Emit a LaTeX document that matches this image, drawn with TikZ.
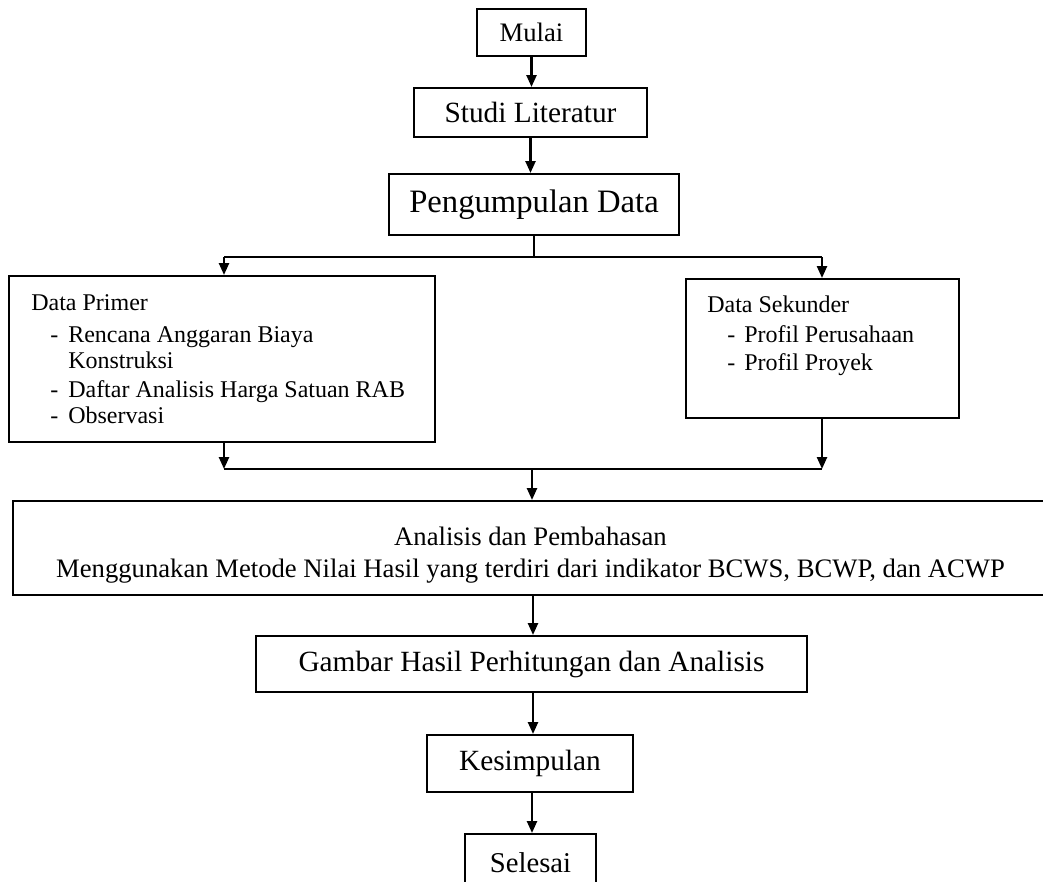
\documentclass[tikz,border=0pt]{standalone}
\usepackage{fontspec}
\setmainfont{Liberation Serif}
\usetikzlibrary{arrows.meta}
\tikzset{
  box/.style={draw, line width=1.5pt, inner sep=0pt, align=center},
  conn/.style={line width=1.8pt},
  arr/.style={line width=1.8pt, -{Triangle[length=9pt,width=7.5pt]}},
  listtext/.style={anchor=base west, inner sep=0pt, font=\fontsize{18}{21}\selectfont},
}
\begin{document}
\begin{tikzpicture}[x=0.75pt,y=-0.75pt]
\useasboundingbox (0,0) rectangle (1043,882);
\fill[white] (0,0) rectangle (1043,882);

% main boxes
\node[box, minimum width=81.75pt, minimum height=35.25pt, font=\fontsize{20}{24}\selectfont] (mulai) at (531.5,32.5) {Mulai};
\node[box, minimum width=174.75pt, minimum height=36.75pt, font=\fontsize{22}{26}\selectfont] (studi) at (530.5,112.5) {Studi Literatur};
\node[box, minimum width=217.5pt, minimum height=45.75pt, font=\fontsize{24.5}{29}\selectfont] (peng) at (534,204.5) {Pengumpulan Data};
\node[box, minimum width=319.5pt, minimum height=124.5pt] (prim) at (222,359) {};
\node[box, minimum width=204.75pt, minimum height=104.25pt] (sek) at (822.5,348.5) {};
\node[box, minimum width=776.25pt, minimum height=70.5pt] (anal) at (530.5,548) {};
\node[align=center, inner sep=0pt, font=\fontsize{20}{23.5}\selectfont] (analtext) at (530.5,555)
  {Analisis dan Pembahasan\\Menggunakan Metode Nilai Hasil yang terdiri dari indikator BCWS, BCWP, dan ACWP};
\node[box, minimum width=413.25pt, minimum height=42pt, font=\fontsize{22}{26}\selectfont] (gambar) at (531.5,664) {Gambar Hasil Perhitungan dan Analisis};
\node[box, minimum width=154.5pt, minimum height=42.75pt, font=\fontsize{22}{26}\selectfont] (kes) at (530,763.5) {Kesimpulan};
\node[box, minimum width=98.25pt, minimum height=43.5pt, font=\fontsize{21.5}{26}\selectfont] (sel) at (530.5,863) {Selesai};

% Data Primer text
\node[listtext] (p0) at (31,310) {Data Primer};
\node[listtext] (p1d) at (50,342) {-};
\node[listtext] (p1) at (68,342) {Rencana Anggaran Biaya};
\node[listtext] (p1b) at (68,368) {Konstruksi};
\node[listtext] (p2d) at (50,397) {-};
\node[listtext] (p2) at (68,397) {Daftar Analisis Harga Satuan RAB};
\node[listtext] (p3d) at (50,423) {-};
\node[listtext] (p3) at (68,423) {Observasi};

% Data Sekunder text
\node[listtext] (s0) at (707,312) {Data Sekunder};
\node[listtext] (s1d) at (727,342) {-};
\node[listtext] (s1) at (744,342) {Profil Perusahaan};
\node[listtext] (s2d) at (727,370) {-};
\node[listtext] (s2) at (744,370) {Profil Proyek};

% connectors
\draw[arr] (mulai.south) -- (mulai.south |- studi.north);
\draw[arr] (studi.south) -- (studi.south |- peng.north);

\coordinate (bc) at (534,257);
\coordinate (bl) at (224,257);
\coordinate (br) at (822,257);
\draw[conn] (peng.south) -- (bc);
\draw[conn] (bl) -- (br);
\draw[arr] (bl) -- (bl |- prim.north);
\draw[arr] (br) -- (br |- sek.north);

\coordinate (ml) at (224,469);
\coordinate (mr) at (822,469);
\coordinate (mc) at (532,469);
\draw[arr] (ml |- prim.south) -- (ml);
\draw[arr] (mr |- sek.south) -- (mr);
\draw[conn] (ml) -- (mr);
\draw[arr] (mc) -- (mc |- anal.north);

\coordinate (ac) at (533,595);
\draw[arr] (ac) -- (ac |- gambar.north);
\draw[arr] (ac |- gambar.south) -- (ac |- kes.north);
\coordinate (kc) at (532,792);
\draw[arr] (kc) -- (kc |- sel.north);
\end{tikzpicture}
\end{document}
